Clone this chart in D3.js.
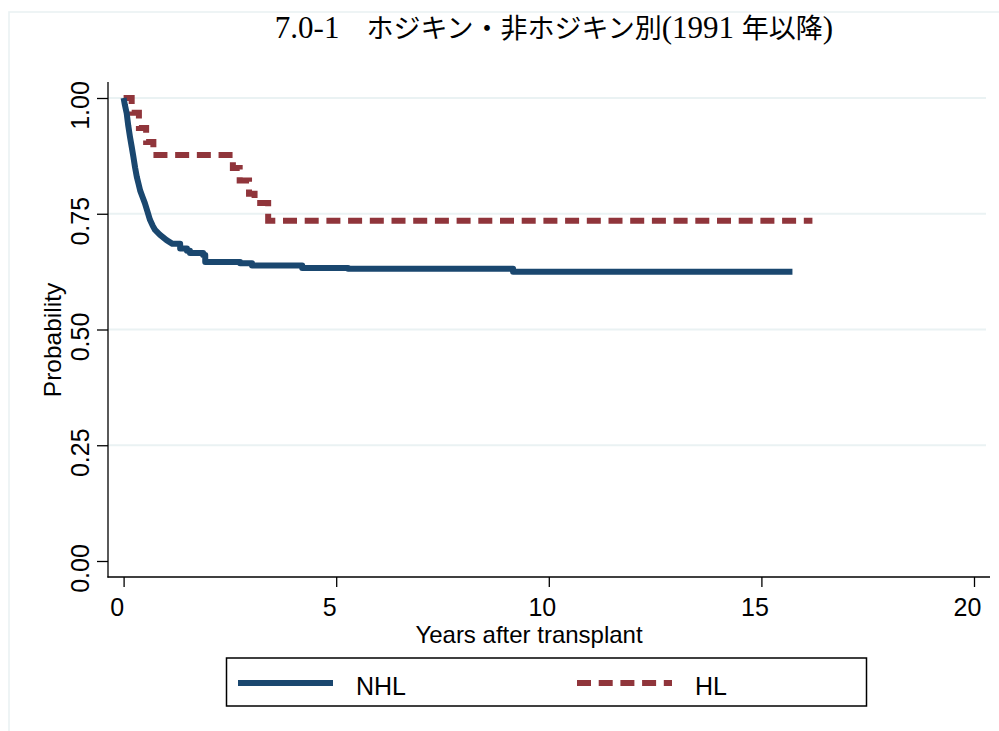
<!DOCTYPE html>
<html>
<head>
<meta charset="utf-8">
<script src="https://cdn.jsdelivr.net/npm/d3@7"></script>
<style>
  body { margin: 0; background: #fff; }
  svg { display: block; }
  text { font-family: "Liberation Sans", Arial, sans-serif; fill: #000; }
</style>
</head>
<body>
<div id="chart"></div>
<script>
// survival estimates
var nhlYears = [0, 0.03, 0.073, 0.11, 0.15, 0.19, 0.23, 0.27, 0.31, 0.35, 0.39, 0.45, 0.50, 0.56, 0.62, 0.68, 0.74, 0.85, 1.01, 1.15, 1.33, 1.49, 1.56, 1.87, 1.92, 2.74, 3.02, 4.2, 5.28, 9.16, 15.73];
var nhlSurv  = [1.0, 0.985, 0.967, 0.94, 0.916, 0.895, 0.873, 0.85, 0.83, 0.815, 0.80, 0.785, 0.773, 0.755, 0.737, 0.725, 0.715, 0.705, 0.693, 0.685, 0.675, 0.670, 0.665, 0.661, 0.646, 0.643, 0.638, 0.633, 0.631, 0.625, 0.625];

var hlYears = [0, 0.19, 0.36, 0.53, 0.70, 2.57, 2.73, 2.95, 3.08, 3.40, 16.2];
var hlSurv  = [1.0, 0.968, 0.935, 0.905, 0.877, 0.849, 0.822, 0.793, 0.773, 0.735, 0.735];

var seriesNames = ["NHL", "HL"];
var xTicks = [0, 5, 10, 15, 20];
var yTicks = [0, 0.25, 0.5, 0.75, 1];

var width = 999, height = 731;
var navy = "#1a476f", maroon = "#90353b", gridCol = "#eaf2f3";

var svg = d3.select("#chart")
	.append("svg")
	.attr("width", width)
	.attr("height", height)

// outer graph region outline
svg.append("rect")
	.attr("x", 9).attr("y", 12)
	.attr("width", 1100).attr("height", 900)
	.attr("fill", "none")
	.attr("stroke", gridCol)
	.attr("stroke-width", 1.6)

var x = d3.scaleLinear().domain([0, 20]).range([123.6, 974])
var y = d3.scaleLinear().domain([0, 1]).range([561, 98])

// grid
svg.append("g").selectAll("line")
	.data(yTicks.filter(function (d) { return d > 0 }))
	.enter().append("line")
	.attr("x1", 108).attr("x2", 986)
	.attr("y1", function (d) { return y(d) })
	.attr("y2", function (d) { return y(d) })
	.attr("stroke", gridCol)
	.attr("stroke-width", 2)

// axes
var yAxis = svg.append("g")
	.attr("transform", "translate(108,0)")
	.call(d3.axisLeft(y).tickValues(yTicks).tickSize(11).tickFormat(d3.format(".2f")))
yAxis.select(".domain").remove()
yAxis.selectAll("line").attr("stroke", "#000").attr("stroke-width", 1.3)
yAxis.selectAll("text")
	.attr("x", null).attr("dy", null)
	.attr("text-anchor", "middle")
	.attr("transform", "translate(-19,7) rotate(-90)")
	.style("font-size", "25px")

var xAxis = svg.append("g")
	.attr("transform", "translate(0,577)")
	.call(d3.axisBottom(x).tickValues(xTicks).tickSize(10))
xAxis.select(".domain").remove()
xAxis.selectAll("line").attr("stroke", "#000").attr("stroke-width", 1.3)
xAxis.selectAll("text")
	.attr("y", 39).attr("dy", null).attr("dx", -7)
	.style("font-size", "25px")

svg.append("line")
	.attr("x1", 108).attr("x2", 108).attr("y1", 82).attr("y2", 577.6)
	.attr("stroke", "#000").attr("stroke-width", 1.3)
svg.append("line")
	.attr("x1", 107.4).attr("x2", 990).attr("y1", 577).attr("y2", 577)
	.attr("stroke", "#000").attr("stroke-width", 1.3)

// axis titles
svg.append("text")
	.attr("transform", "translate(61,340) rotate(-90)")
	.attr("text-anchor", "middle")
	.style("font-size", "24.5px")
	.text("Probability")

svg.append("text")
	.attr("x", 529).attr("y", 643)
	.attr("text-anchor", "middle")
	.style("font-size", "24px")
	.text("Years after transplant")

// title
var title = svg.append("text")
	.attr("x", 554).attr("y", 38)
	.attr("text-anchor", "middle")
	.style("font-family", "'Noto Sans CJK JP', sans-serif")
	.style("font-size", "27px")
title.append("tspan").style("font-family", "'Liberation Serif', serif").style("font-size", "31px").text("7.0-1")
title.append("tspan").text("\u3000ホジキン・非ホジキン別")
title.append("tspan").style("font-family", "'Liberation Serif', serif").style("font-size", "31px").text("(1991 ")
title.append("tspan").text("年以降")
title.append("tspan").style("font-family", "'Liberation Serif', serif").style("font-size", "31px").text(")")

// curves
var line = d3.line()
	.x(function (d) { return x(d[0]) })
	.y(function (d) { return y(d[1]) })

// steps drawn explicitly; the dense early drop of NHL is joined straight
function steps(ts, ps, from) {
	var pts = []
	for (var i = 0; i < ts.length; i++) {
		pts.push([ts[i], ps[i]])
		if (i < ts.length - 1 && ts[i + 1] >= from) pts.push([ts[i + 1], ps[i]])
	}
	return pts
}

svg.append("path")
	.datum(steps(hlYears, hlSurv, 0))
	.attr("d", line)
	.attr("fill", "none")
	.attr("stroke", maroon)
	.attr("stroke-width", 6)
	.attr("stroke-dasharray", "14,7.7")

svg.append("path")
	.datum(steps(nhlYears, nhlSurv, 1.3))
	.attr("d", line)
	.attr("fill", "none")
	.attr("stroke", navy)
	.attr("stroke-width", 6)
	.attr("stroke-linejoin", "round")

// legend
var legend = svg.append("g")
svg.append("rect")
	.attr("x", 226.5).attr("y", 658)
	.attr("width", 640).attr("height", 48)
	.attr("fill", "none")
	.attr("stroke", "#000")
	.attr("stroke-width", 1.5)

var legX = [238, 577]
legend.selectAll("line")
	.data(seriesNames)
	.enter().append("line")
	.attr("x1", function (d, i) { return legX[i] })
	.attr("x2", function (d, i) { return legX[i] + 95 })
	.attr("y1", 683).attr("y2", 683)
	.attr("stroke", function (d, i) { return i == 0 ? navy : maroon })
	.attr("stroke-width", 6)
	.attr("stroke-dasharray", function (d, i) { return i == 0 ? null : "14,7.7" })

legend.selectAll("text")
	.data(seriesNames)
	.enter().append("text")
	.attr("x", function (d, i) { return legX[i] + 118 })
	.attr("y", 695)
	.style("font-size", "25px")
	.text(function (d) { return d })
</script>
</body>
</html>
